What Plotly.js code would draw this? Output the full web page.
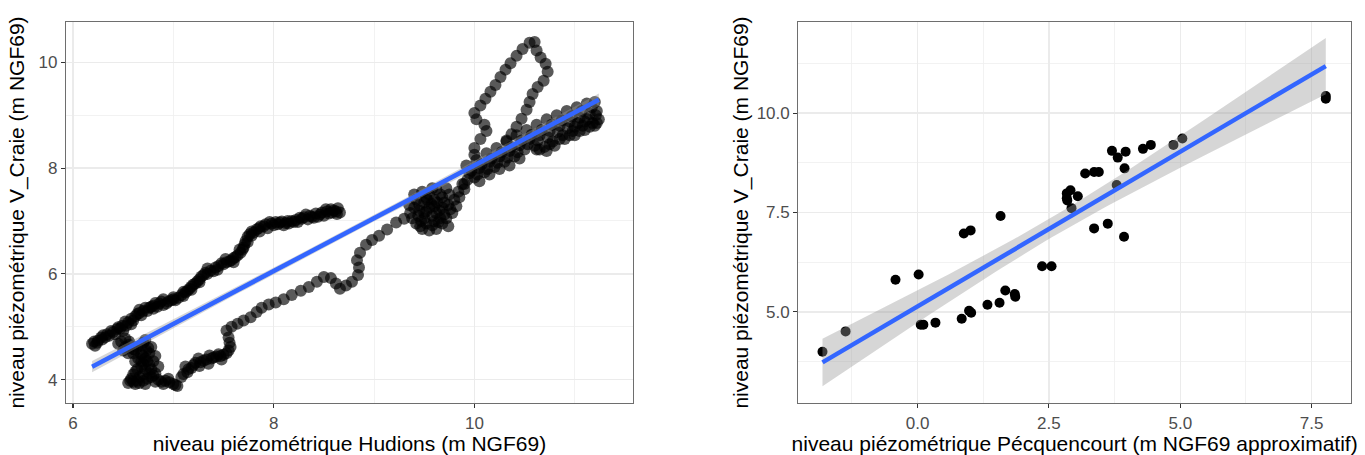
<!DOCTYPE html>
<html>
<head>
<meta charset="utf-8">
<script src="https://cdn.plot.ly/plotly-3.0.1.min.js"></script>
<style>
html,body{margin:0;padding:0;background:#ffffff;}
#chart{width:1365px;height:455px;}
</style>
</head>
<body>
<div id="chart"></div>
<script>
// ---------- Left panel: Hudions vs V_Craie (daily series) ----------
const hudionsX = [
  // upper-left arm
  6.19,6.25,6.32,6.40,6.47,6.55,6.62,6.70,6.78,6.86,6.95,7.05,7.12,7.20,7.28,7.37,7.45,7.53,7.60,7.67,7.72,7.76,7.83,7.90,7.98,8.06,8.15,8.22,8.30,8.38,8.46,8.53,8.60,8.66,
  6.22,6.28,6.36,6.44,6.50,6.58,6.66,6.74,6.82,6.90,7.00,7.08,7.16,7.24,7.32,7.40,7.48,7.56,7.64,7.70,7.74,7.80,7.87,7.94,8.02,8.10,8.18,8.26,8.34,8.42,8.50,8.57,8.63,
  6.21,6.29,6.34,6.42,6.49,6.53,6.60,6.64,6.68,6.76,6.80,6.84,6.88,6.93,6.98,7.02,7.10,7.14,7.18,7.22,7.26,7.30,7.34,7.42,7.50,7.58,7.62,7.69,7.71,7.78,7.85,7.92,8.00,8.08,8.12,8.20,8.28,8.36,8.44,8.48,8.55,8.62,
  6.24,6.30,6.38,6.45,6.52,6.58,6.66,6.72,6.80,6.90,7.00,7.10,7.18,7.26,7.34,7.44,7.52,7.60,7.66,7.74,7.78,7.86,7.96,8.04,8.14,8.24,8.32,8.40,8.52,8.58,8.64,
  // lower-left knot
  6.45,6.52,6.60,6.68,6.72,6.75,6.70,6.74,6.68,6.62,6.58,6.55,6.62,6.70,6.78,6.82,6.85,6.92,7.00,7.04,6.78,6.80,6.65,6.60,6.76,6.66,
  6.48,6.56,6.64,6.70,6.73,6.72,6.70,6.64,6.60,6.57,6.60,6.66,6.74,6.80,6.88,6.96,7.02,6.76,6.68,6.62,
  6.50,6.55,6.62,6.68,6.72,6.76,6.70,6.64,6.72,6.82,6.90,6.95,6.85,6.82,6.78,6.56,6.52,
  // lower rising path
  7.10,7.15,7.12,7.20,7.25,7.27,7.33,7.35,7.40,7.45,7.47,7.53,7.57,7.55,7.53,7.58,7.64,7.70,7.77,7.83,7.88,7.95,8.02,8.10,8.18,8.27,8.35,8.43,8.50,8.57,8.62,8.66,8.72,8.78,8.84,8.85,8.83,8.86,8.92,8.98,9.05,9.13,9.22,9.30,
  7.08,7.18,7.22,7.30,7.38,7.43,7.50,7.55,7.56,7.14,7.26,7.36,7.48,
  // cluster near 9.5
  9.38,9.42,9.48,9.55,9.62,9.68,9.72,9.78,9.82,9.45,9.50,9.55,9.60,9.65,9.58,9.50,9.42,9.48,9.70,9.75,9.62,9.55,9.66,9.85,9.90,9.40,9.36,
  9.44,9.52,9.60,9.68,9.74,9.80,9.46,9.52,9.58,9.64,9.70,9.76,9.52,9.58,9.66,9.72,9.84,9.88,9.45,9.35,
  9.50,9.57,9.63,9.68,9.60,9.53,9.47,9.62,9.40,9.74,
  // main upper-right band
  9.95,10.05,10.15,10.25,10.35,10.45,10.55,10.65,10.75,10.85,10.95,11.05,11.15,11.22,
  9.92,10.02,10.12,10.22,10.32,10.42,10.52,10.62,10.72,10.82,10.92,11.02,11.12,11.20,
  9.90,10.00,10.10,10.20,10.30,10.40,10.50,10.60,10.70,10.78,10.88,10.98,11.08,11.18,11.24,
  9.97,10.07,10.17,10.27,10.37,10.47,10.57,10.67,10.77,10.87,10.97,11.07,11.17,
  9.93,10.03,10.13,10.23,10.33,10.43,10.53,10.63,10.73,10.83,10.93,11.03,11.13,11.21,
  10.05,10.15,10.25,10.35,10.45,10.65,10.72,10.80,10.90,11.00,11.10,11.20,
  10.85,10.95,11.05,11.15,11.22,10.75,10.62,11.10,11.00,
  // loop to 10.4 m
  10.00,10.00,10.06,10.12,10.10,10.02,10.00,10.06,10.11,10.16,10.21,10.26,10.31,10.36,10.42,10.48,10.55,10.60,10.62,10.66,10.71,10.73,10.69,10.63,10.58,10.55,10.52,10.47,10.42,10.37,10.32
];
const craieY1 = [
  4.68,4.74,4.80,4.90,4.97,5.08,5.20,5.30,5.38,5.44,5.48,5.55,5.65,5.80,5.95,6.06,6.15,6.22,6.30,6.40,6.62,6.75,6.84,6.90,6.95,6.97,6.95,7.02,7.07,7.08,7.12,7.18,7.20,7.16,
  4.64,4.80,4.83,4.96,4.92,5.15,5.26,5.30,5.45,5.41,5.52,5.60,5.72,5.86,6.02,6.05,6.20,6.24,6.35,6.50,6.70,6.78,6.90,6.86,6.98,6.92,7.00,7.06,7.03,7.14,7.10,7.22,7.13,
  4.72,4.76,4.86,4.86,5.02,5.02,5.12,5.24,5.22,5.36,5.40,5.38,5.48,5.44,5.50,5.50,5.58,5.68,5.76,5.82,5.90,5.98,6.00,6.12,6.18,6.26,6.32,6.46,6.56,6.80,6.86,6.94,6.92,6.99,6.96,6.98,7.04,7.10,7.08,7.16,7.14,7.18,
  4.70,4.84,4.92,4.99,5.10,5.05,5.32,5.36,5.34,5.52,5.56,5.66,5.70,5.84,6.10,6.08,6.28,6.22,6.46,6.60,6.72,6.80,6.98,6.94,7.00,6.98,7.12,7.06,7.22,7.16,7.24,
  4.68,4.62,4.58,4.65,4.75,4.60,4.45,4.35,4.25,4.15,4.02,3.94,3.92,3.98,4.05,4.12,4.00,3.98,3.92,3.88,4.20,4.35,4.40,4.50,4.50,4.05,
  4.72,4.66,4.62,4.70,4.55,4.40,4.30,4.20,4.10,3.98,3.96,3.94,4.02,4.08,3.96,3.95,3.90,4.28,4.48,4.56,
  4.55,4.50,4.35,4.35,4.20,4.12,4.10,3.98,3.92,3.96,3.92,4.02,4.25,4.45,4.62,4.72,4.78,
  4.11,4.20,4.25,4.28,4.40,4.33,4.38,4.30,4.42,4.48,4.45,4.50,4.62,4.80,4.93,5.00,5.06,5.12,5.18,5.28,5.36,5.42,5.46,5.52,5.60,5.68,5.75,5.85,5.94,5.92,5.82,5.72,5.78,5.85,5.98,6.12,6.26,6.40,6.55,6.64,6.72,6.84,6.97,7.04,
  4.05,4.22,4.32,4.36,4.40,4.44,4.47,4.55,4.70,4.14,4.26,4.46,4.38,
  7.05,6.95,6.85,6.82,6.85,6.95,7.05,7.15,7.28,7.20,7.35,7.50,7.40,7.20,7.10,7.05,7.40,7.55,7.35,7.50,7.60,7.25,7.05,7.45,7.60,7.25,7.15,
  7.10,7.18,7.28,7.25,7.30,7.40,6.90,6.95,6.92,6.98,7.12,7.22,7.45,7.62,7.50,7.62,7.55,7.70,7.30,7.30,
  7.15,7.32,7.35,7.45,7.00,7.40,7.00,7.15,7.50,6.90,
  7.90,8.00,8.12,8.22,8.32,8.43,8.55,8.62,8.70,8.80,8.88,8.95,9.02,9.08,
  8.05,8.15,8.28,8.38,8.50,8.62,8.72,8.82,8.92,9.00,9.08,9.15,9.22,9.25,
  7.70,7.82,7.92,8.02,8.12,8.22,8.35,8.42,8.40,8.50,8.62,8.70,8.80,8.85,8.92,
  7.95,8.07,8.18,8.30,8.40,8.52,8.63,8.72,8.82,8.90,8.98,9.08,9.15,
  7.78,7.88,7.98,8.10,8.20,8.30,8.45,8.52,8.58,8.68,8.75,8.85,8.92,9.00,
  7.75,7.88,7.98,8.05,8.18,8.35,8.32,8.42,8.55,8.62,8.72,8.80,
  8.55,8.62,8.70,8.78,8.85,8.45,8.35,8.88,8.78,
  8.25,8.38,8.55,8.70,8.82,8.92,9.04,9.18,9.31,9.44,9.57,9.72,9.86,9.98,10.12,10.25,10.37,10.38,10.22,10.09,9.97,9.82,9.65,9.53,9.40,9.25,9.10,8.93,8.78,8.64,8.52
];

// ---------- Right panel: Pécquencourt vs V_Craie ----------
const pecX = [-1.81,-1.37,-0.42,0.02,0.06,0.11,0.34,0.84,0.98,1.02,0.88,1.01,1.33,1.56,1.58,1.67,1.85,1.86,2.37,2.55,2.93,2.84,2.91,2.84,3.05,3.19,3.36,3.45,3.79,3.70,3.81,3.96,3.94,4.29,4.44,4.87,5.04,7.77,7.77,3.36,3.62,3.93,2.85];
const craieY2 = [4.00,4.51,5.81,5.94,4.68,4.68,4.73,4.83,5.03,4.98,6.97,7.05,5.18,5.23,7.41,5.54,5.45,5.38,6.15,6.15,7.61,7.98,8.06,7.86,7.91,8.48,8.52,8.52,8.19,9.05,8.88,9.03,8.61,9.10,9.20,9.20,9.36,10.43,10.36,7.10,7.22,6.89,7.80];

// Axis ticks
const leftXTicks = [6, 8, 10];
const leftYTicks = [4, 6, 8, 10];
const rightXTicks = [0, 2.5, 5, 7.5];
const rightYTicks = [5, 7.5, 10];

// Labels
const leftXTitle = 'niveau piézométrique Hudions (m NGF69)';
const yTitle = 'niveau piézométrique V_Craie (m NGF69)';
const rightXTitle = 'niveau piézométrique Pécquencourt (m NGF69 approximatif)';

// Student t 0.975 quantiles for the 95% confidence band
const T_LEFT = 1.97;
const T_RIGHT = 2.02;

function lmBand(x, y, t) {
  const n = x.length;
  let mx = 0, my = 0;
  for (let i = 0; i < n; i++) { mx += x[i]; my += y[i]; }
  mx /= n; my /= n;
  let sxx = 0, sxy = 0;
  for (let i = 0; i < n; i++) { sxx += (x[i]-mx)*(x[i]-mx); sxy += (x[i]-mx)*(y[i]-my); }
  const b = sxy / sxx, a = my - b * mx;
  let sse = 0;
  for (let i = 0; i < n; i++) { const r = y[i] - (a + b * x[i]); sse += r * r; }
  const s = Math.sqrt(sse / (n - 2));
  const xmin = Math.min(...x), xmax = Math.max(...x);
  const gx = [], gy = [], up = [], lo = [];
  const N = 80;
  for (let k = 0; k < N; k++) {
    const xv = xmin + (xmax - xmin) * k / (N - 1);
    const fit = a + b * xv;
    const se = s * Math.sqrt(1 / n + (xv - mx) * (xv - mx) / sxx);
    gx.push(xv); gy.push(fit); up.push(fit + t * se); lo.push(fit - t * se);
  }
  return {gx, gy, up, lo};
}

const fitL = lmBand(hudionsX, craieY1, T_LEFT);
const fitR = lmBand(pecX, craieY2, T_RIGHT);

const FONT = 'Liberation Sans, Arial, Helvetica, sans-serif';
const ribbonColor = 'rgba(153,153,153,0.4)';
const lineColor = '#3366FF';

function ribbon(f, xa, ya) {
  return {
    x: f.gx.concat(f.gx.slice().reverse()),
    y: f.up.concat(f.lo.slice().reverse()),
    type: 'scatter', mode: 'lines', fill: 'toself', fillcolor: ribbonColor,
    line: {width: 0}, hoverinfo: 'skip', showlegend: false, xaxis: xa, yaxis: ya
  };
}

const traces = [
  {x: hudionsX, y: craieY1, type: 'scatter', mode: 'markers', xaxis: 'x', yaxis: 'y',
   marker: {color: '#000000', size: 12, opacity: 0.65, line: {width: 0}}, showlegend: false},
  ribbon(fitL, 'x', 'y'),
  {x: fitL.gx, y: fitL.gy, type: 'scatter', mode: 'lines', xaxis: 'x', yaxis: 'y',
   line: {color: lineColor, width: 4.5}, showlegend: false},
  {x: pecX, y: craieY2, type: 'scatter', mode: 'markers', xaxis: 'x2', yaxis: 'y2',
   marker: {color: '#000000', size: 10, line: {width: 0}}, showlegend: false},
  ribbon(fitR, 'x2', 'y2'),
  {x: fitR.gx, y: fitR.gy, type: 'scatter', mode: 'lines', xaxis: 'x2', yaxis: 'y2',
   line: {color: lineColor, width: 4.5}, showlegend: false}
];

function axis(extra) {
  return Object.assign({
    showline: true, mirror: true, linecolor: '#6e6e6e', linewidth: 1.2,
    ticks: 'outside', ticklen: 4, tickwidth: 1.1, tickcolor: '#333333',
    showgrid: true, gridcolor: '#ebebeb', gridwidth: 1.3, zeroline: false,
    tickfont: {family: FONT, size: 17, color: '#4d4d4d'},
    fixedrange: true
  }, extra);
}

const layout = {
  width: 1365, height: 455,
  margin: {l: 66, r: 14, t: 22, b: 52},
  paper_bgcolor: '#ffffff', plot_bgcolor: '#ffffff',
  showlegend: false,
  font: {family: FONT, color: '#000000'},
  xaxis: axis({domain: [0, 0.4412], range: [5.93, 11.58], tickmode: 'array', tickvals: leftXTicks,
    ticktext: leftXTicks.map(String),
    minor: {showgrid: true, gridcolor: '#efefef', gridwidth: 0.8, dtick: 1, tick0: 0, ticks: ''},
    title: {text: leftXTitle, font: {family: FONT, size: 21, color: '#000'}, standoff: 6}}),
  yaxis: axis({domain: [0, 1], range: [3.56, 10.76], tickmode: 'array', tickvals: leftYTicks,
    ticktext: leftYTicks.map(String),
    minor: {showgrid: true, gridcolor: '#efefef', gridwidth: 0.8, dtick: 1, tick0: 0, ticks: ''},
    title: {text: yTitle, font: {family: FONT, size: 21, color: '#000'}, standoff: 8}}),
  xaxis2: axis({domain: [0.5699, 1], range: [-2.27, 8.25], anchor: 'y2', tickmode: 'array', tickvals: rightXTicks,
    ticktext: rightXTicks.map(v => v.toFixed(1)),
    minor: {showgrid: true, gridcolor: '#efefef', gridwidth: 0.8, dtick: 1.25, tick0: 0, ticks: ''},
    title: {text: rightXTitle, font: {family: FONT, size: 21, color: '#000'}, standoff: 6}}),
  yaxis2: axis({domain: [0, 1], range: [2.71, 12.29], anchor: 'x2', tickmode: 'array', tickvals: rightYTicks,
    ticktext: rightYTicks.map(v => v.toFixed(1)),
    minor: {showgrid: true, gridcolor: '#efefef', gridwidth: 0.8, dtick: 1.25, tick0: 0, ticks: ''},
    title: {text: yTitle, font: {family: FONT, size: 21, color: '#000'}, standoff: 2}})
};

Plotly.newPlot('chart', traces, layout, {displayModeBar: false, staticPlot: true});
</script>
</body>
</html>
